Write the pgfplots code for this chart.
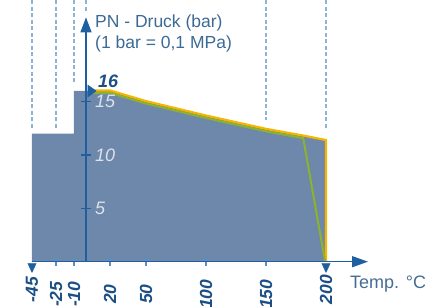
\documentclass[border=0pt]{standalone}
\usepackage{fontspec}
\setmainfont{Liberation Sans}
\usepackage{pgfplots}
\pgfplotsset{compat=1.18}
\usetikzlibrary{arrows.meta}
\definecolor{fillc}{HTML}{6D88AB}
\definecolor{axc}{HTML}{1F5F9F}
\definecolor{tickc}{HTML}{5B8FC3}
\definecolor{dashc}{HTML}{8DB3D6}
\definecolor{orng}{HTML}{F7B500}
\definecolor{grn}{HTML}{8DB32B}
\definecolor{labc}{HTML}{3B6A96}
\definecolor{tlab}{HTML}{1B4F85}
\definecolor{ylab}{HTML}{DDE2EA}
\begin{document}
\begin{tikzpicture}
\path[use as bounding box] (-86pt,-45.3pt) rectangle (343pt,261.7pt);
\begin{axis}[
  anchor=origin, at={(0,0)},
  scale only axis,
  x=1.2pt, y=10.67pt,
  xmin=-45, xmax=235, ymin=0, ymax=22.9,
  axis lines=middle,
  axis on top,
  clip=false,
  axis line style={axc, line width=1.5pt},
  every inner x axis line/.append style={-{Triangle[length=16pt,width=11pt]}},
  every inner y axis line/.append style={-{Triangle[length=15pt,width=11pt]}},
  /pgf/number format/assume math mode=true,
  xtick={-25,-10,20,50,100,150},
  extra x ticks={-45,200},
  extra x tick style={major tick length=0pt},
  xticklabels={-25,-10,20,50,100,150},
  extra x tick labels={-45,200},
  ytick={5,10,15},
  tick align=center,
  major tick length=9pt,
  x tick style={tickc, line width=1.3pt},
  y tick style={axc, line width=1.3pt},
  xticklabel style={yshift=-28pt, rotate=90, anchor=center, text=tlab,
     font=\fontsize{17.5}{17.5}\selectfont\bfseries\itshape},
  yticklabel style={anchor=west, xshift=10pt, text=ylab,
     font=\fontsize{18}{18}\selectfont\itshape},
]
% filled area
\addplot[fill=fillc, draw=none] coordinates {
  (-45,0) (-45,12) (-10,12) (-10,16) (20,16) (50,15.0) (100,13.65)
  (150,12.4) (182,11.75) (200,11.35) (200,0)} -- cycle;
% dashed guide lines
\addplot[dashc, line width=1.6pt, dash pattern=on 4pt off 2.5pt] coordinates {(-45,24.5) (-45,12.4)};
\addplot[dashc, line width=1.6pt, dash pattern=on 4pt off 2.5pt] coordinates {(-25,24.5) (-25,12.4)};
\addplot[dashc, line width=1.6pt, dash pattern=on 4pt off 2.5pt] coordinates {(-10,24.5) (-10,16.7)};
\addplot[dashc, line width=1.6pt, dash pattern=on 4pt off 2.5pt] coordinates {(0,24.5) (0,23.3)};
\addplot[dashc, line width=1.6pt, dash pattern=on 4pt off 2.5pt] coordinates {(150,24.5) (150,13.3)};
\addplot[dashc, line width=1.6pt, dash pattern=on 4pt off 2.5pt] coordinates {(200,24.5) (200,12.5)};
% orange line
\addplot[orng, line width=2.2pt] coordinates {
  (5,16.05) (20,16.05) (50,15.05) (100,13.7) (150,12.45) (182,11.8) (200,11.4) (200,0)};
% green line
\addplot[grn, line width=2pt] coordinates {
  (5,15.82) (20,15.82) (50,14.82) (100,13.47) (150,12.22) (181,11.58) (199.3,0)};
% markers
\addplot[only marks, mark=triangle*, mark size=6pt, color=axc,
  mark options={rotate=180, xscale=0.8}] coordinates {(-45,-0.45) (200,-0.45)};
\addplot[only marks, mark=triangle*, mark size=7pt, color=axc,
  mark options={rotate=-90, yscale=0.8}] coordinates {(3.8,16)};
% texts
\node[anchor=west, text=tlab, font=\fontsize{18}{18}\selectfont\bfseries\itshape, inner sep=0pt]
  at (axis cs:10,16.9) {16};
\node[anchor=north west, align=left, text=labc, font=\fontsize{17.5}{21}\selectfont, inner sep=0pt]
  at (axis cs:7.5,23.2) {PN - Druck (bar)\\(1 bar = 0,1 MPa)};
\node[anchor=west, text=labc!85!gray, font=\fontsize{18}{18}\selectfont, inner sep=0pt]
  at (axis cs:220,-2.1) {Temp. °C};
\end{axis}
\end{tikzpicture}
\end{document}
